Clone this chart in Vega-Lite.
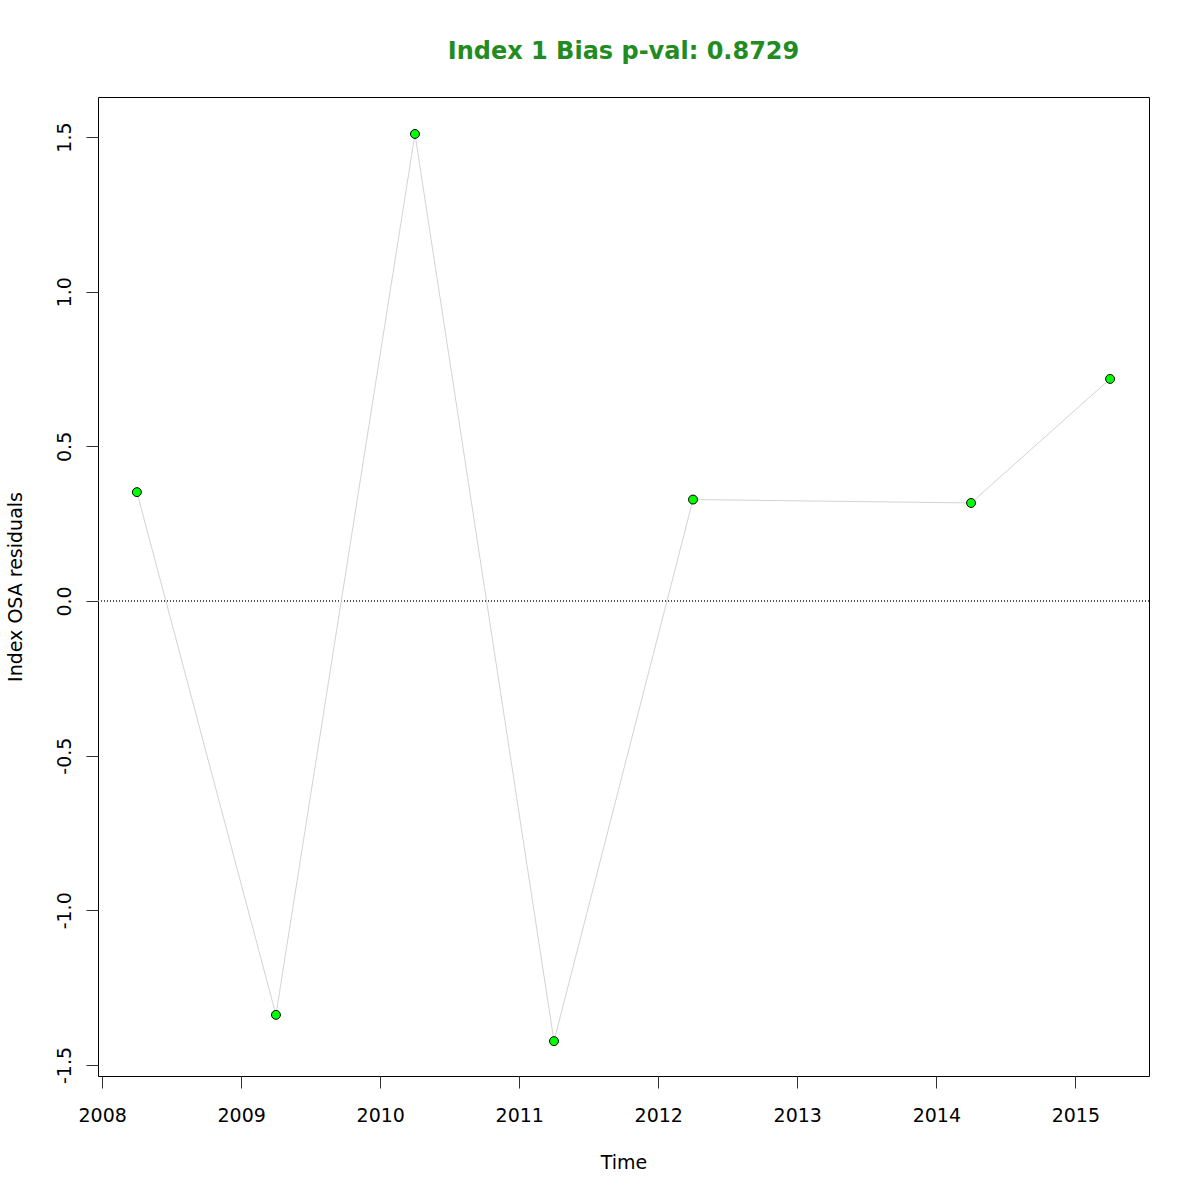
{
  "$schema": "https://vega.github.io/schema/vega-lite/v6.json",
  "width": 1051,
  "height": 979,
  "autosize": "none",
  "padding": {"left": 98, "top": 97, "right": 51, "bottom": 124},
  "background": "white",
  "config": {
    "font": "DejaVu Sans",
    "view": {"stroke": "black", "strokeWidth": 1}
  },
  "title": {
    "text": "Index 1 Bias p-val: 0.8729",
    "color": "#228B22",
    "fontSize": 24,
    "fontWeight": "bold",
    "font": "DejaVu Sans",
    "baseline": "alphabetic",
    "offset": 14,
    "anchor": "middle"
  },
  "data": {
    "values": [
      {"year": 2008.25, "resid": 0.352},
      {"year": 2009.25, "resid": -1.338},
      {"year": 2010.25, "resid": 1.510},
      {"year": 2011.25, "resid": -1.423},
      {"year": 2012.25, "resid": 0.328},
      {"year": 2014.25, "resid": 0.317},
      {"year": 2015.25, "resid": 0.718}
    ]
  },
  "encoding": {
    "x": {
      "field": "year",
      "type": "quantitative",
      "scale": {"domain": [2007.97, 2015.53], "nice": false, "zero": false},
      "axis": {
        "values": [2008, 2009, 2010, 2011, 2012, 2013, 2014, 2015],
        "format": "d",
        "grid": false,
        "domain": false,
        "tickSize": 12,
        "tickColor": "#333333",
        "labelFontSize": 19,
        "labelColor": "black",
        "labelPadding": 18,
        "title": "Time",
        "titleFontSize": 19,
        "titleFontWeight": "normal",
        "titleColor": "black",
        "titleBaseline": "middle",
        "titleY": 86
      }
    },
    "y": {
      "field": "resid",
      "type": "quantitative",
      "scale": {"domain": [-1.5357, 1.6295], "nice": false, "zero": false},
      "axis": {
        "values": [-1.5, -1.0, -0.5, 0.0, 0.5, 1.0, 1.5],
        "labelExpr": "replace(format(datum.value, '.1f'), '\u2212', '-')",
        "grid": false,
        "domain": false,
        "tickSize": 12,
        "tickColor": "#333333",
        "labelFontSize": 19,
        "labelColor": "black",
        "labelAngle": 270,
        "labelAlign": "center",
        "labelBaseline": "bottom",
        "labelPadding": 12,
        "title": "Index OSA residuals",
        "titleFontSize": 19,
        "titleFontWeight": "normal",
        "titleColor": "black",
        "titleBaseline": "middle",
        "titleX": -83
      }
    }
  },
  "layer": [
    {
      "mark": {"type": "rule", "color": "#555555", "strokeWidth": 1, "strokeDash": [1, 2]},
      "encoding": {"y": {"datum": 0}, "x": null}
    },
    {
      "mark": {"type": "line", "color": "#d3d3d3", "strokeWidth": 1}
    },
    {
      "mark": {"type": "circle", "size": 80, "fill": "#00FF00", "stroke": "black", "strokeWidth": 1, "opacity": 1}
    }
  ]
}
